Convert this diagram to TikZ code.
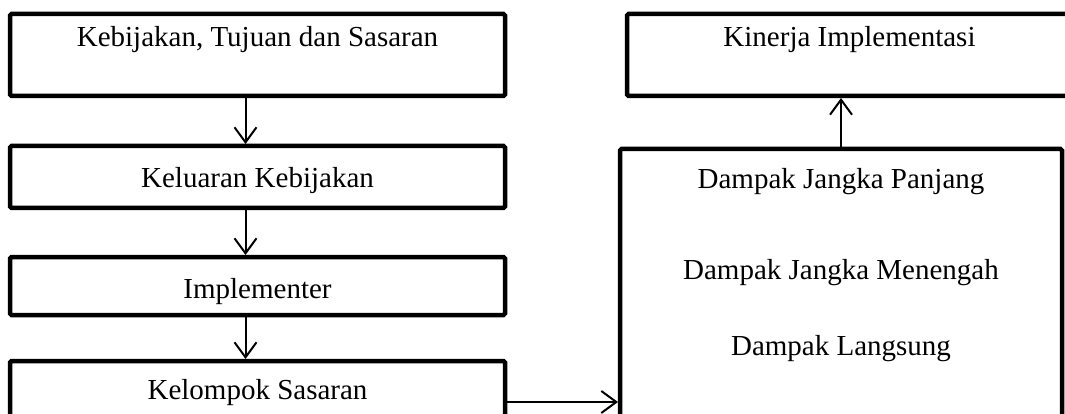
\documentclass[tikz,border=0pt]{standalone}
\usepackage{fontspec}
\setmainfont{Liberation Serif}
\usetikzlibrary{arrows.meta,calc}

\tikzset{
	box/.style={draw, line width=4.5pt, rounded corners=1.5pt, inner sep=0pt, outer sep=0pt},
	txt/.style={anchor=base, inner sep=0pt, font=\fontsize{29}{34}\selectfont},
	arr/.style={line width=2pt, -{Straight Barb[length=15pt,width=22pt,line width=2pt]}, shorten >=2pt}
}

\begin{document}
\begin{tikzpicture}[x=1pt, y=-1pt]
	\useasboundingbox (0,0) rectangle (1065,414);
	\clip (0,0) rectangle (1065,414);
	
	%Left column
	\def\w{495}
	\node[box, minimum width=\w, minimum height=82] (L1) at (257.5,55) {};
	\node[box, minimum width=\w, minimum height=62] (L2) at (257.5,177) {};
	\node[box, minimum width=\w, minimum height=58] (L3) at (257.5,286) {};
	\node[box, minimum width=\w, minimum height=120] (L4) at (257.5,421) {};
	
	\node[txt] (T1) at ([yshift=-33pt]L1.north) {Kebijakan, Tujuan dan Sasaran};
	\node[txt] (T2) at ([yshift=-42pt]L2.north) {Keluaran Kebijakan};
	\node[txt] (T3) at ([yshift=-41pt]L3.north) {Implementer};
	\node[txt] (T4) at ([yshift=-38pt]L4.north) {Kelompok Sasaran};
	
	%Right column
	\node[box, minimum width=453, minimum height=82] (R1) at (853.5,55) {};
	\node[box, minimum width=442, minimum height=291] (R2) at (841,294.5) {};
	
	\node[txt] (K1) at ([xshift=-4pt, yshift=-33pt]R1.north) {Kinerja Implementasi};
	\node[txt] (D1) at ([yshift=-40pt]R2.north) {Dampak Jangka Panjang};
	\node[txt] (D2) at ([yshift=-130pt]R2.north) {Dampak Jangka Menengah};
	\node[txt] (D3) at ([yshift=-206pt]R2.north) {Dampak Langsung};
	
	%Arrows
	\def\dx{-12pt}
	\draw[arr] ([xshift=\dx]L1.south) -- ([xshift=\dx]L2.north);
	\draw[arr] ([xshift=\dx]L2.south) -- ([xshift=\dx]L3.north);
	\draw[arr] ([xshift=\dx]L3.south) -- ([xshift=\dx]L4.north);
	\draw[arr] ([yshift=-41pt]L4.north east) -- ([yshift=-41pt]L4.north east -| R2.west);
	\draw[arr] (R2.north) -- (R2.north |- R1.south);
\end{tikzpicture}
\end{document}
